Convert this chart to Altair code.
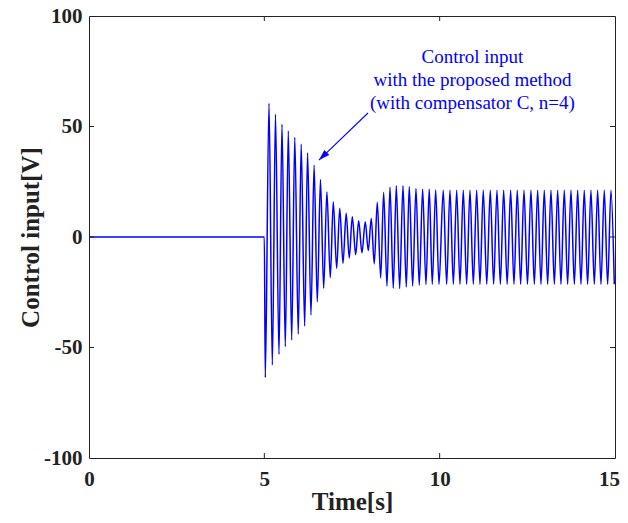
import altair as alt
import pandas as pd

# ---- data ----
pre_t = [0.0, 5.0]
pre_v = [0.0, 0.0]

peak_t = [5.133, 5.318, 5.503, 5.683, 5.868, 6.051, 6.233, 6.419, 6.601, 6.784,
          6.966, 7.151, 7.334, 7.508, 7.690, 7.878, 8.050, 8.221, 8.403, 8.583,
          8.763, 8.954, 9.133, 9.324, 9.515, 9.703, 9.886, 10.103, 10.294, 10.485,
          10.673, 10.864, 11.055, 11.243, 11.443, 11.634, 11.825, 12.024, 12.213, 12.404,
          12.603, 12.794, 12.983, 13.174, 13.365, 13.553, 13.744, 13.935, 14.123, 14.314,
          14.505, 14.694, 14.885]
peak_v = [60.5, 55.5, 51.0, 48.0, 45.0, 42.0, 38.0, 32.5, 26.0, 20.5,
          16.0, 13.0, 10.7, 9.2, 7.4, 6.9, 8.4, 15.7, 20.2, 22.5,
          23.2, 23.2, 22.8, 22.0, 21.6, 21.6, 21.3, 21.2, 21.2, 21.2,
          21.2, 21.2, 21.2, 21.2, 21.2, 21.2, 21.2, 21.2, 21.2, 21.2,
          21.2, 21.2, 21.2, 21.2, 21.2, 21.2, 21.2, 21.2, 21.2, 21.2,
          21.2, 21.2, 21.2]

trough_t = [5.027, 5.228, 5.418, 5.598, 5.780, 5.968, 6.150, 6.330, 6.510, 6.692,
            6.881, 7.063, 7.243, 7.422, 7.605, 7.784, 7.964, 8.135, 8.318, 8.497,
            8.677, 8.859, 9.048, 9.230, 9.418, 9.609, 9.789, 9.980, 10.199, 10.390,
            10.579, 10.769, 10.960, 11.149, 11.343, 11.539, 11.730, 11.925, 12.119, 12.309,
            12.504, 12.699, 12.889, 13.079, 13.270, 13.459, 13.649, 13.840, 14.029, 14.219,
            14.410, 14.600, 14.790, 14.980]
trough_v = [-63.6, -57.9, -53.1, -49.6, -46.6, -43.9, -40.3, -35.3, -29.3, -23.2,
            -18.4, -14.2, -11.9, -9.5, -8.0, -7.1, -6.2, -12.2, -18.5, -22.2,
            -23.2, -23.3, -22.6, -22.2, -21.8, -21.5, -21.4, -21.4, -21.4, -21.4,
            -21.4, -21.4, -21.4, -21.4, -21.4, -21.4, -21.4, -21.4, -21.4, -21.4,
            -21.4, -21.4, -21.4, -21.4, -21.4, -21.4, -21.4, -21.4, -21.4, -21.4,
            -21.4, -21.4, -21.4, -21.4]

x_ticks = [0, 5, 10, 15]
y_ticks = [-100, -50, 0, 50, 100]

annot_lines = ["Control input", "with the proposed method", "(with compensator C, n=4)"]
annot_x = [10.935, 10.935, 10.935]
annot_y = [81.4, 71.0, 60.6]

arrow_x = [7.956, 6.558]
arrow_y = [56.1, 34.8]

# ---- build table ----
ts, vs = list(pre_t), list(pre_v)
for i in range(len(trough_t)):
    ts.append(trough_t[i]); vs.append(trough_v[i])
    if i < len(peak_t):
        ts.append(peak_t[i]); vs.append(peak_v[i])
sig = pd.DataFrame({"t": ts, "u": vs})

W, H = 526, 442
FONT = "Liberation Serif"
BLUE = "#0000ff"

xs = alt.Scale(domain=[0, 15], nice=False, zero=False)
ys = alt.Scale(domain=[-100, 100], nice=False, zero=False)

x_axis = alt.Axis(values=x_ticks, title="Time[s]", grid=False, domain=False, ticks=False,
                  tickSize=0, labelPadding=10, labelFlush=False, labelOverlap=False,
                  labelExpr="'' + datum.value",
                  labelOffset={"condition": {"test": "datum.value == 15", "value": -6},
                               "value": 0},
                  labelFont=FONT, labelFontSize=21, labelFontWeight="bold", labelColor="#222",
                  titleFont=FONT, titleFontSize=25, titleFontWeight="bold", titleColor="#222",
                  titleX=W / 2, titleY=51.5, titleBaseline="alphabetic", titleAlign="center")
y_axis = alt.Axis(values=y_ticks, title="Control input[V]", grid=False, domain=False, ticks=False,
                  tickSize=0, labelPadding=7, labelFlush=False, labelOverlap=False,
                  labelExpr="'' + datum.value",
                  labelFont=FONT, labelFontSize=21, labelFontWeight="bold", labelColor="#222",
                  titleFont=FONT, titleFontSize=25, titleFontWeight="bold", titleColor="#222",
                  titleX=-59, titleY=H / 2, titleAngle=270, titleBaseline="middle",
                  titleAlign="center")

line = alt.Chart(sig).mark_line(color=BLUE, strokeWidth=1.5, interpolate="monotone").encode(
    x=alt.X("t:Q", scale=xs, axis=x_axis),
    y=alt.Y("u:Q", scale=ys, axis=y_axis),
)

xt = pd.DataFrame({"v": x_ticks[1:-1]})
yt = pd.DataFrame({"v": y_ticks[1:-1]})
tick_style = dict(color="#222", strokeWidth=1)
bottom = alt.Chart(xt).mark_rule(**tick_style).encode(
    x=alt.X("v:Q", scale=xs), y=alt.value(H), y2=alt.value(H - 5))
top = alt.Chart(xt).mark_rule(**tick_style).encode(
    x=alt.X("v:Q", scale=xs), y=alt.value(0), y2=alt.value(5))
left = alt.Chart(yt).mark_rule(**tick_style).encode(
    y=alt.Y("v:Q", scale=ys), x=alt.value(0), x2=alt.value(5))
right = alt.Chart(yt).mark_rule(**tick_style).encode(
    y=alt.Y("v:Q", scale=ys), x=alt.value(W), x2=alt.value(W - 5))

ann = pd.DataFrame({"x": annot_x, "y": annot_y, "txt": annot_lines})
text = alt.Chart(ann).mark_text(font=FONT, fontSize=19, color=BLUE, align="center",
                                baseline="middle").encode(
    x=alt.X("x:Q", scale=xs), y=alt.Y("y:Q", scale=ys), text="txt:N")

arr = pd.DataFrame({"x": arrow_x, "y": arrow_y})
arrow_line = alt.Chart(arr).mark_line(color=BLUE, strokeWidth=1.1).encode(
    x=alt.X("x:Q", scale=xs), y=alt.Y("y:Q", scale=ys))
head = pd.DataFrame({"x": arrow_x[1:], "y": arrow_y[1:]})
arrow_head = alt.Chart(head).mark_point(
    shape="M0,0 L-0.33,1 L0.33,1 Z", size=480, filled=True, color=BLUE, opacity=1,
    angle=226).encode(x=alt.X("x:Q", scale=xs), y=alt.Y("y:Q", scale=ys))

chart = alt.layer(line, bottom, top, left, right, arrow_line, arrow_head, text).properties(
    width=W, height=H,
    autosize=alt.AutoSizeParams(type="none"),
    padding={"left": 81, "top": 8, "right": 5, "bottom": 57},
    background="white",
).configure_view(stroke="#222", strokeWidth=1)

chart.save("out.html", embed_options={"renderer": "svg", "actions": False})
